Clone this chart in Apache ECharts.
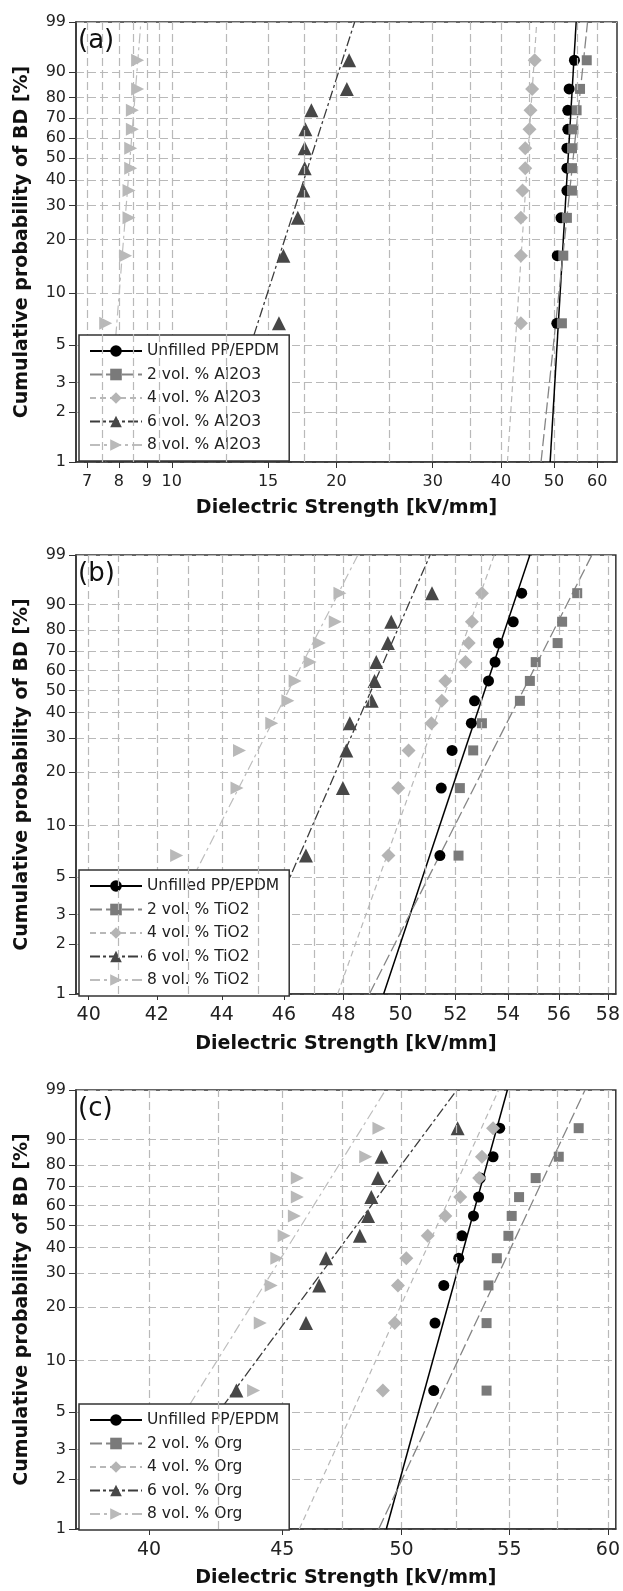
<!DOCTYPE html>
<html>
<head>
<meta charset="utf-8">
<title>Weibull plots of dielectric strength</title>
<script src="https://cdn.jsdelivr.net/npm/echarts@6.0.0/dist/echarts.min.js"></script>
<style>
    html, body { margin: 0; padding: 0; background: #fff; }
    #chart { width: 623px; height: 1591px; }
</style>
</head>
<body>
<div id="chart"></div>
<script>
    // median ranks (%) of the ten breakdowns per sample, and the fit line ends
    var rankPct = [6.7, 16.3, 26.0, 35.6, 45.2, 54.8, 64.4, 74.0, 83.7, 93.3];
    var fitPct = [1, 99];
    var probTicks = [1, 2, 3, 5, 10, 20, 30, 40, 50, 60, 70, 80, 90, 99];

    // (a) Al2O3
    var namesA = ['Unfilled PP/EPDM', '2 vol. % Al2O3', '4 vol. % Al2O3', '6 vol. % Al2O3', '8 vol. % Al2O3'];
    var aUnfilled = [50.6, 50.7, 51.5, 52.8, 52.8, 52.8, 53.0, 53.0, 53.3, 54.5];
    var aAl2 = [51.7, 52.0, 52.8, 53.95, 53.95, 53.95, 54.25, 55.0, 55.8, 57.4];
    var aAl4 = [43.5, 43.5, 43.5, 43.8, 44.3, 44.3, 45.1, 45.3, 45.6, 46.1];
    var aAl6 = [15.7, 16.0, 17.0, 17.4, 17.5, 17.5, 17.55, 18.0, 20.9, 21.1];
    var aAl8 = [7.57, 8.23, 8.35, 8.35, 8.41, 8.41, 8.47, 8.47, 8.66, 8.66];
    var fitsA = [[49.2, 54.9], [47.35, 57.6], [41.1, 46.5], [11.9, 21.6], [7.57, 8.78]];
    var ticksA = [7, 8, 9, 10, 15, 20, 30, 40, 50, 60];
    var minorA = [7.5, 8.5, 9.5, 12.5, 17.5, 25, 35, 45, 55];
    var rangeA = [6.68, 65.2];

    // (b) TiO2
    var namesB = ['Unfilled PP/EPDM', '2 vol. % TiO2', '4 vol. % TiO2', '6 vol. % TiO2', '8 vol. % TiO2'];
    var bUnfilled = [51.43, 51.48, 51.88, 52.6, 52.72, 53.25, 53.5, 53.63, 54.2, 54.53];
    var bTi2 = [52.12, 52.17, 52.67, 53.0, 54.46, 54.85, 55.08, 55.95, 56.13, 56.74];
    var bTi4 = [49.57, 49.92, 50.29, 51.12, 51.5, 51.63, 52.38, 52.5, 52.62, 53.0];
    var bTi6 = [46.73, 47.98, 48.1, 48.22, 48.98, 49.08, 49.14, 49.55, 49.67, 51.14];
    var bTi8 = [42.6, 44.48, 44.56, 45.6, 46.13, 46.37, 46.87, 47.18, 47.72, 47.88];
    var fitsB = [[49.4, 54.85], [48.9, 57.34], [47.8, 53.47], [44.55, 51.07], [41.3, 48.5]];
    var ticksB = [40, 42, 44, 46, 48, 50, 52, 54, 56, 58];
    var minorB = [41, 43, 45, 47, 49, 51, 53, 55, 57];
    var rangeB = [39.64, 58.33];

    // (c) organic filler
    var namesC = ['Unfilled PP/EPDM', '2 vol. % Org', '4 vol. % Org', '6 vol. % Org', '8 vol. % Org'];
    var cUnfilled = [51.44, 51.5, 51.9, 52.59, 52.74, 53.28, 53.52, 53.6, 54.21, 54.53];
    var cOrg2 = [53.9, 53.9, 53.99, 54.39, 54.95, 55.11, 55.47, 56.29, 57.45, 58.47];
    var cOrg4 = [49.18, 49.7, 49.84, 50.21, 51.17, 51.97, 52.66, 53.55, 53.68, 54.21];
    var cOrg6 = [43.21, 45.95, 46.49, 46.77, 48.19, 48.54, 48.68, 48.97, 49.12, 52.54];
    var cOrg8 = [43.87, 44.13, 44.56, 44.78, 45.07, 45.48, 45.6, 45.6, 48.44, 49.01];
    var fitsC = [[49.33, 54.9], [49.0, 58.8], [45.68, 54.48], [39.4, 52.5], [38.72, 49.3]];
    var ticksC = [40, 45, 50, 55, 60];
    var minorC = [42.5, 47.5, 52.5, 57.5];
    var rangeC = [37.5, 60.42];

    var FONT = 'DejaVu Sans';

    // one look per filler content, same in all three panels
    var looks = [
        { symbol: 'circle', size: 11, rotate: 0, color: '#000000', line: '#000000', width: 1.5, dash: 'solid' },
        { symbol: 'rect', size: 10, rotate: 0, color: '#7a7a7a', line: '#858585', width: 1.3, dash: [12, 4] },
        { symbol: 'diamond', size: 14, rotate: 0, color: '#b4b4b4', line: '#b8b8b8', width: 1.2, dash: [6, 4] },
        { symbol: 'triangle', size: 14, rotate: 0, color: '#474747', line: '#3c3c3c', width: 1.3, dash: [10, 3, 3, 3] },
        { symbol: 'triangle', size: 13, rotate: -90, color: '#b9b9b9', line: '#bdbdbd', width: 1.2, dash: [10, 4, 3, 4] }
    ];

    // Weibull probability scale
    function wb(p) { return Math.log(-Math.log(1 - p / 100)); }

    var panels = [
        { names: namesA, pts: [aUnfilled, aAl2, aAl4, aAl6, aAl8], fits: fitsA, ticks: ticksA, minor: minorA, range: rangeA,
          top: 22, height: 440, xFont: 16, nameGap: 37, legendTop: 335, label: '(a)' },
        { names: namesB, pts: [bUnfilled, bTi2, bTi4, bTi6, bTi8], fits: fitsB, ticks: ticksB, minor: minorB, range: rangeB,
          top: 555, height: 439, xFont: 19, nameGap: 41, legendTop: 870, label: '(b)' },
        { names: namesC, pts: [cUnfilled, cOrg2, cOrg4, cOrg6, cOrg8], fits: fitsC, ticks: ticksC, minor: minorC, range: rangeC,
          top: 1090, height: 439, xFont: 19, nameGap: 40, legendTop: 1404, label: '(c)' }
    ];

    var grids = [], xAxes = [], yAxes = [], legends = [], titles = [], series = [];
    var gridLine = { color: '#b9b9b9', type: [8, 4], width: 1.2 };
    var frame = { color: '#333', width: 1.5 };

    panels.forEach(function (pn, i) {
        grids.push({ left: 76, top: pn.top, width: 541, height: pn.height, show: true,
            borderColor: '#333', borderWidth: 1.5 });

        xAxes.push({
            type: 'value', gridIndex: i,
            min: Math.log(pn.range[0]), max: Math.log(pn.range[1]),
            name: 'Dielectric Strength [kV/mm]', nameLocation: 'middle', nameGap: pn.nameGap,
            nameTextStyle: { fontFamily: FONT, fontSize: 19, fontWeight: 'bold', color: '#111' },
            axisLine: { show: true, onZero: false, lineStyle: frame },
            axisTick: { show: true, length: 6, lineStyle: { color: '#333' }, customValues: pn.ticks.map(Math.log) },
            axisLabel: { customValues: pn.ticks.map(Math.log), margin: 12,
                fontFamily: FONT, fontSize: pn.xFont, color: '#222',
                formatter: function (v) { return String(Math.round(Math.exp(v))); } },
            splitLine: { show: true, lineStyle: gridLine }
        });

        yAxes.push({
            type: 'value', gridIndex: i, min: wb(1), max: wb(99),
            name: 'Cumulative probability of BD [%]', nameLocation: 'middle', nameGap: 44,
            nameTextStyle: { fontFamily: FONT, fontSize: 19, fontWeight: 'bold', color: '#111' },
            axisLine: { show: true, onZero: false, lineStyle: frame },
            axisTick: { show: true, length: 7, lineStyle: { color: '#333' }, customValues: probTicks.map(wb) },
            axisLabel: { customValues: probTicks.map(wb), margin: 10,
                fontFamily: FONT, fontSize: 16, color: '#222',
                formatter: function (v) { return String(Math.round((1 - Math.exp(-Math.exp(v))) * 100)); } },
            splitLine: { show: true, lineStyle: gridLine }
        });

        legends.push({
            orient: 'vertical', left: 79, top: pn.legendTop, align: 'left',
            itemWidth: 52, itemHeight: 14.5, itemGap: 7.5, padding: [8, 10, 8, 10],
            backgroundColor: '#fff', borderColor: '#333', borderWidth: 1.5, borderRadius: 0,
            selectedMode: false,
            textStyle: { fontFamily: FONT, fontSize: 15.5, color: '#222' },
            data: pn.names
        });

        titles.push({ text: pn.label, left: 78, top: pn.top + 6, padding: 0,
            textStyle: { fontFamily: FONT, fontSize: 26, fontWeight: 'normal', color: '#111' } });

        // unlabelled vertical grid lines (no tick mark on the axis)
        series.push({
            type: 'line', xAxisIndex: i, yAxisIndex: i, data: [], silent: true, z: 1,
            markLine: {
                silent: true, symbol: ['none', 'none'], label: { show: false },
                lineStyle: gridLine, animation: false,
                data: pn.minor.map(function (v) { return { xAxis: Math.log(v) }; })
            }
        });

        pn.names.forEach(function (name, k) {
            var lk = looks[k];
            // fitted Weibull line (first, so the legend takes its line + symbol)
            series.push({
                type: 'line', name: name, xAxisIndex: i, yAxisIndex: i,
                data: fitPct.map(function (p, j) { return [Math.log(pn.fits[k][j]), wb(p)]; }),
                symbol: lk.symbol, symbolRotate: lk.rotate, showSymbol: false,
                itemStyle: { color: lk.color },
                lineStyle: { color: lk.line, width: lk.width, type: lk.dash },
                silent: true, z: 2
            });
            // breakdown points
            series.push({
                type: 'scatter', name: name, xAxisIndex: i, yAxisIndex: i,
                data: rankPct.map(function (p, j) { return [Math.log(pn.pts[k][j]), wb(p)]; }),
                symbol: lk.symbol, symbolSize: lk.size, symbolRotate: lk.rotate,
                itemStyle: { color: lk.color, opacity: 1 },
                silent: true, z: 3
            });
        });
    });

    var chart = echarts.init(document.getElementById('chart'));
    chart.setOption({
        animation: false,
        backgroundColor: '#fff',
        title: titles,
        grid: grids,
        xAxis: xAxes,
        yAxis: yAxes,
        legend: legends,
        series: series
    });
</script>
</body>
</html>
